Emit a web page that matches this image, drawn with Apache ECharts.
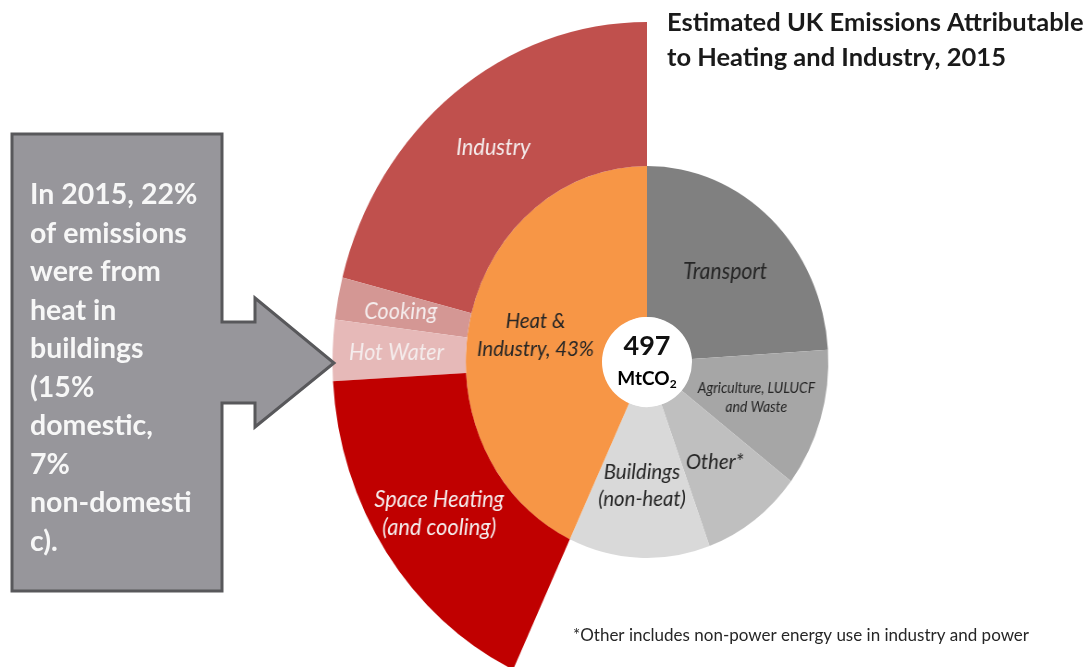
<!DOCTYPE html>
<html><head><meta charset="utf-8">
<script src="https://cdn.jsdelivr.net/npm/echarts@6.0.0/dist/echarts.min.js"></script>
<style>
html,body{margin:0;padding:0;background:#fff;}
#wrap{position:relative;width:1087px;height:667px;overflow:hidden;}
#pie,#over{position:absolute;left:0;top:0;width:1087px;height:667px;}
#pie{transform:scaleX(0.925);transform-origin:647px 0;}
</style>
</head><body>
<div id="wrap"><div id="pie"></div><div id="over"></div></div>
<script>
// ---- data (percent of 497 MtCO2) ----
const innerCategories = ['Transport', 'Agriculture, LULUCF\nand Waste', 'Other*', 'Buildings\n(non-heat)', 'Heat &\nIndustry, 43%'];
const innerValues = [24.0, 11.4, 9.0, 12.6, 43.0];
const outerCategories = ['Industry', 'Cooking', 'Hot Water', 'Space Heating\n(and cooling)'];
const outerValues = [21.0, 2.0, 2.9, 17.1];
const totalEmissions = '497';
const titleLines = ['Estimated UK Emissions Attributable', 'to Heating and Industry, 2015'];
const calloutLines = ['In 2015, 22%', 'of emissions', 'were from', 'heat in', 'buildings', '(15%', 'domestic,', '7%', 'non-domesti', 'c).'];
const footnote = '*Other includes non-power energy use in industry and power';

// ---- styles ----
const innerColors = ['#808080', '#A6A6A6', '#BFBFBF', '#D9D9D9', '#F79646'];
const outerColors = ['#C0504D', '#D49794', '#E6B9B8', '#C00000'];
const innerLabelSize = [23, 15, 22, 22, 22];
const innerLabelLH = [26, 19, 26, 27, 28];
const FONT = 'Lato';

const cx = 647, cy = 362;
const outerSum = outerValues.reduce((a, b) => a + b, 0);
const innerSum = innerValues.reduce((a, b) => a + b, 0);

const pie = echarts.init(document.getElementById('pie'), null, {renderer: 'canvas'});
pie.setOption({
  animation: false,
  series: [
    {
      type: 'pie', center: [cx, cy], radius: [45, 196], startAngle: 90, clockwise: true,
      avoidLabelOverlap: false, silent: true,
      label: {show: true, position: 'inside', formatter: '{b}', fontFamily: FONT, fontStyle: 'italic', color: '#262626'},
      labelLine: {show: false},
      itemStyle: {borderWidth: 0},
      data: innerCategories.map((n, i) => ({
        name: n, value: innerValues[i],
        itemStyle: {color: innerColors[i]},
        label: {fontSize: innerLabelSize[i], lineHeight: innerLabelLH[i]}
      }))
    },
    {
      type: 'pie', center: [cx, cy], radius: [196, 340], startAngle: 90, clockwise: false,
      avoidLabelOverlap: false, silent: true,
      label: {show: true, position: 'inside', formatter: '{b}', fontFamily: FONT, fontStyle: 'italic', color: '#F5EDED', fontSize: 23.5, lineHeight: 28},
      labelLine: {show: false},
      itemStyle: {borderWidth: 0},
      data: outerCategories.map((n, i) => ({
        name: n, value: outerValues[i], itemStyle: {color: outerColors[i]}
      })).concat([{name: '', value: innerSum - outerSum, itemStyle: {color: 'rgba(0,0,0,0)'}, label: {show: false}}])
    }
  ]
});

const over = echarts.init(document.getElementById('over'), null, {renderer: 'canvas'});
over.setOption({
  animation: false,
  title: {
    text: titleLines.join('\n'), left: 662, top: 0,
    textStyle: {fontFamily: FONT, fontWeight: 'bold', fontSize: 25.5, lineHeight: 35, color: '#1A1A1A'}
  },
  graphic: [
    {
      type: 'polygon',
      shape: {points: [[12, 134], [222, 134], [222, 322], [255, 322], [255, 298], [334, 363], [255, 427], [255, 403], [222, 403], [222, 591], [12, 591]]},
      style: {fill: '#97969B', stroke: '#58585B', lineWidth: 3, lineJoin: 'miter'}
    },
    {
      type: 'text', left: 30, top: 176,
      style: {text: calloutLines.join('\n'), fontFamily: FONT, fontWeight: 'bold', fontSize: 28.5, lineHeight: 38.5, fill: '#F7F7F7'}
    },
    {
      type: 'text', left: 573, top: 627,
      style: {text: footnote, fontFamily: FONT, fontSize: 17, fill: '#262626'}
    },
    {
      type: 'circle', shape: {cx: cx, cy: cy, r: 45}, style: {fill: '#FFFFFF'}
    },
    {
      type: 'text', x: cx, y: 346,
      style: {text: totalEmissions, fontFamily: FONT, fontWeight: 'bold', fontSize: 27, fill: '#111', align: 'center', verticalAlign: 'middle'}
    },
    {
      type: 'text', x: cx, y: 379,
      style: {
        text: '{m|MtCO}{s|2}', align: 'center', verticalAlign: 'middle',
        rich: {
          m: {fontFamily: FONT, fontWeight: 'bold', fontSize: 19, color: '#111'},
          s: {fontFamily: FONT, fontWeight: 'bold', fontSize: 12, color: '#111', padding: [10, 0, 0, 0]}
        }
      }
    }
  ]
});
</script>
</body></html>
